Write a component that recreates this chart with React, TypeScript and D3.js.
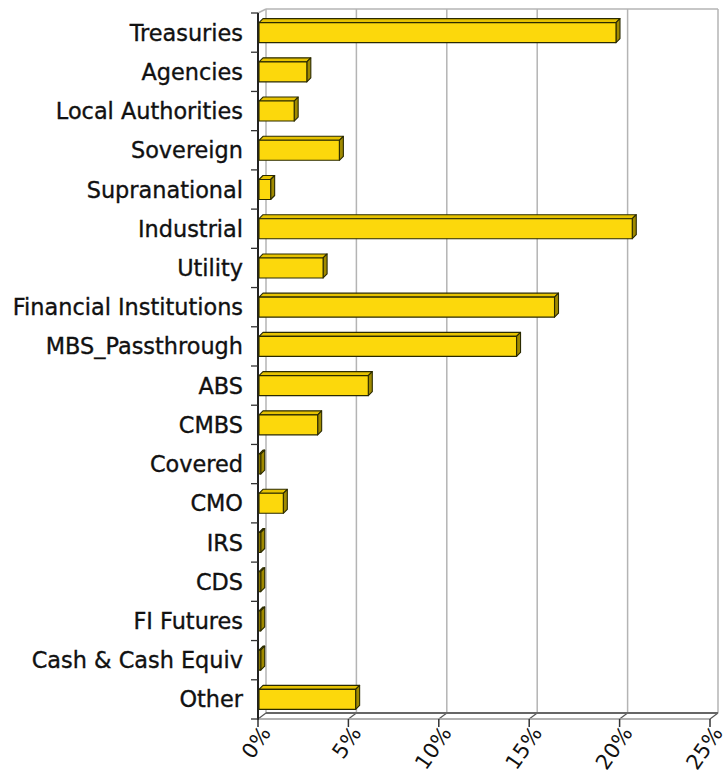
import React from "react";
import * as d3 from "d3";

const categories = [
  "Treasuries",
  "Agencies",
  "Local Authorities",
  "Sovereign",
  "Supranational",
  "Industrial",
  "Utility",
  "Financial Institutions",
  "MBS_Passthrough",
  "ABS",
  "CMBS",
  "Covered",
  "CMO",
  "IRS",
  "CDS",
  "FI Futures",
  "Cash & Cash Equiv",
  "Other",
];
const values = [19.8, 2.7, 2.0, 4.5, 0.7, 20.7, 3.6, 16.4, 14.3, 6.1, 3.3, 0.15, 1.4, 0.15, 0.15, 0.15, 0.15, 5.4];
const xTicks = [0, 5, 10, 15, 20, 25];

const W = 725;
const H = 782;
const frontLeft = 258;
const frontRight = 710;
const frontTop = 13;
const frontBottom = 719;
const DX = 8;
const DY = -6;
const BDX = 4;
const BDY = -4;

export default function App() {
  const x = d3.scaleLinear().domain([0, 25]).range([frontLeft, frontRight]);
  const y = d3.scaleBand<string>().domain(categories).range([frontTop, frontBottom]).paddingInner(0.49).paddingOuter(0.245);
  const band = d3.scaleBand<string>().domain(categories).range([frontTop, frontBottom]);
  const backTop = frontTop + DY + 2;
  const backBottom = frontBottom + DY;
  const grid = "#b4b4b4";
  const font = "'DejaVu Sans', Verdana, sans-serif";

  return (
    <svg width={W} height={H} style={{ position: "absolute", left: 0, top: 0, background: "#fff" }}>
      {/* back wall gridlines */}
      {xTicks.map((t) => (
        <line key={"g" + t} x1={x(t) + DX} x2={x(t) + DX} y1={backTop} y2={backBottom} stroke={grid} strokeWidth={1.5} />
      ))}
      <line x1={x(0) + DX} x2={x(25) + DX} y1={backTop} y2={backTop} stroke={grid} strokeWidth={1.5} />
      <line x1={x(0)} x2={x(0) + DX} y1={frontTop} y2={backTop} stroke={grid} strokeWidth={1.5} />
      {/* floor */}
      {xTicks.map((t) => (
        <line key={"f" + t} x1={x(t)} x2={x(t) + DX} y1={frontBottom} y2={backBottom} stroke="#555" strokeWidth={1.2} />
      ))}
      <line x1={x(0) + DX} x2={x(25) + DX} y1={backBottom} y2={backBottom} stroke="#666" strokeWidth={2} />
      <line x1={x(0)} x2={x(25)} y1={frontBottom} y2={frontBottom} stroke="#999" strokeWidth={1.5} />
      {/* left axis */}
      <line x1={x(0)} x2={x(0)} y1={frontTop} y2={frontBottom + 1} stroke="#222" strokeWidth={2} />
      {categories.map((c) => (
        <line key={"t" + c} x1={x(0) - 7} x2={x(0)} y1={band(c)!} y2={band(c)!} stroke="#333" strokeWidth={1.3} />
      ))}
      <line x1={x(0) - 7} x2={x(0)} y1={frontBottom} y2={frontBottom} stroke="#333" strokeWidth={1.3} />
      {/* bottom ticks */}
      {xTicks.map((t) => (
        <line key={"b" + t} x1={x(t)} x2={x(t)} y1={frontBottom} y2={frontBottom + 8} stroke="#333" strokeWidth={1.5} />
      ))}
      {/* bars */}
      {categories.map((c, i) => {
        const x0 = x(0) + 1;
        const x1 = x(values[i]);
        const y0 = y(c)!;
        const h = y.bandwidth();
        const top = `M${x0},${y0} L${x0 + BDX},${y0 + BDY} L${x1 + BDX},${y0 + BDY} L${x1},${y0} Z`;
        const side = `M${x1},${y0} L${x1 + BDX},${y0 + BDY} L${x1 + BDX},${y0 + h + BDY} L${x1},${y0 + h} Z`;
        return (
          <g key={"bar" + c} stroke="#2a2a00" strokeWidth={1.1} strokeLinejoin="round">
            <path d={top} fill="#e6c200" />
            <path d={side} fill="#a08a00" />
            <rect x={x0} y={y0} width={Math.max(0, x1 - x0)} height={h} fill="#fcd80c" />
          </g>
        );
      })}
      {/* category labels */}
      {categories.map((c) => (
        <text
          key={"l" + c}
          x={243}
          y={band(c)! + band.bandwidth() / 2}
          textAnchor="end"
          dominantBaseline="central"
          fontFamily={font}
          fontSize={22.4}
          fill="#111"
          stroke="#111"
          strokeWidth={0.35}
        >
          {c}
        </text>
      ))}
      {/* x labels */}
      {xTicks.map((t) => (
        <text
          key={"xl" + t}
          transform={`translate(${x(t) + 8},${frontBottom + 10}) rotate(-55)`}
          textAnchor="end"
          dominantBaseline="central"
          fontFamily={font}
          fontSize={21}
          fill="#111"
        >
          {t + "%"}
        </text>
      ))}
    </svg>
  );
}
